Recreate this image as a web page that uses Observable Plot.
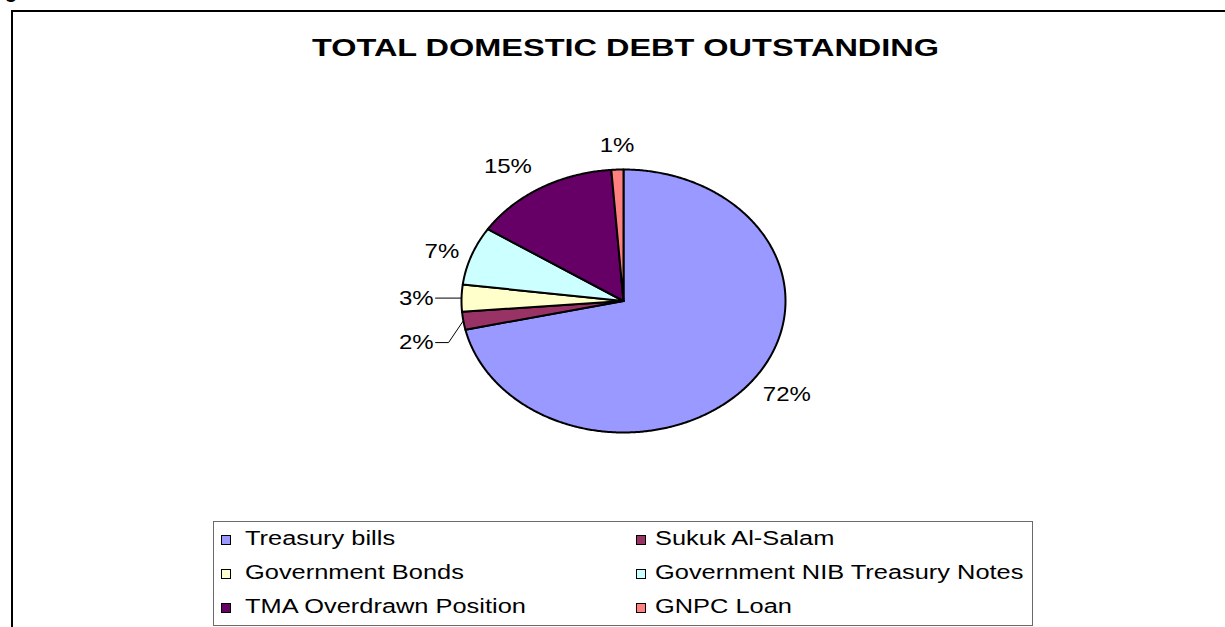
<!DOCTYPE html>
<html>
<head>
<meta charset="utf-8">
<script src="https://cdn.jsdelivr.net/npm/d3@7"></script>
<script src="https://cdn.jsdelivr.net/npm/@observablehq/plot@0.6"></script>
<style>
  html, body { margin: 0; padding: 0; background: #fff; overflow: hidden; }
  #page { position: relative; width: 1225px; height: 627px; overflow: hidden; background: #fff;
          font-family: "Liberation Sans", Arial, sans-serif; color: #000; }
  .abs { position: absolute; white-space: nowrap; line-height: 1; }
  #frame { position: absolute; left: 11px; top: 10px; width: 1214px; height: 617px;
           border-left: 2px solid #000; border-top: 2px solid #000; box-sizing: border-box; }
  #legend { position: absolute; left: 213px; top: 521px; width: 818px; height: 103px;
            border: 1.5px solid #6a6a6a; }
  .sw { position: absolute; width: 8px; height: 8px; border: 1px solid #000; }
  #chart { position: absolute; left: 0; top: 0; }
</style>
</head>
<body>
<div id="page">
  <div id="frame"></div>
  <div class="abs" style="left:5px;top:-19px;font-size:20px;font-weight:bold;">g</div>
  <div id="title" class="abs"></div>
  <div id="chart"></div>
  <div id="legend"></div>
  <div id="legendItems"></div>
</div>
<script>
// ---- data ----
const chartTitle = "TOTAL DOMESTIC DEBT OUTSTANDING";
const categories = ["Treasury bills", "Sukuk Al-Salam", "Government Bonds",
                    "Government NIB Treasury Notes", "TMA Overdrawn Position", "GNPC Loan"];
const shares = [71.5, 2.2, 3.3, 7.2, 14.6, 1.2];
const labelTexts = ["72%", "2%", "3%", "7%", "15%", "1%"];
const colors = ["#9999FF", "#993366", "#FFFFCC", "#CCFFFF", "#660066", "#FF8080"];

// ---- layout ----
const cx = 623, cy = 300.5, rx = 162, ry = 131.5;
const labelScaleX = 1.2, labelFont = 20;
const labelMode = ["out", "bent", "straight", "out", "out", "out"];
const labelNudgePx = [[3, -4], [0, 0], [0, 0], [5, 4], [-11, 0], [1, 1]];

const arcs = d3.pie().sort(null).value(d => d)(shares);

// slice polygons in unit-circle coordinates (angles clockwise from 12 o'clock)
const slices = [];
arcs.forEach((a, i) => {
  const n = Math.max(2, Math.ceil((a.endAngle - a.startAngle) / (Math.PI / 360)));
  slices.push({u: 0, v: 0, cat: categories[i]});
  for (let j = 0; j <= n; j++) {
    const t = a.startAngle + (a.endAngle - a.startAngle) * j / n;
    slices.push({u: Math.sin(t), v: Math.cos(t), cat: categories[i]});
  }
  slices.push({u: 0, v: 0, cat: categories[i]});
});

// labels & leader lines
const labels = [], leaders = [];
arcs.forEach((a, i) => {
  const m = (a.startAngle + a.endAngle) / 2;
  const s = Math.sin(m), c = Math.cos(m);
  const txt = labelTexts[i];
  const wpx = ((txt.length - 1) * 0.556 + 0.889) * labelFont * labelScaleX;
  const hw = (wpx / 2) / rx, hh = 9 / ry;
  const nu = labelNudgePx[i][0] / rx, nv = -labelNudgePx[i][1] / ry;
  if (labelMode[i] === "out") {
    const k = 1.12;
    labels.push({u: k * s + s * hw + nu, v: k * c + c * hh + nv, text: txt});
  } else if (labelMode[i] === "straight") {
    leaders.push({u: s, v: c, id: i}, {u: -1.16, v: c, id: i});
    labels.push({u: -1.16 - hw - 0.012 + nu, v: c + nv, text: txt});
  } else {
    const v2 = c - 0.166;
    leaders.push({u: s, v: c, id: i}, {u: -1.08, v: v2, id: i}, {u: -1.16, v: v2, id: i});
    labels.push({u: -1.16 - hw - 0.012 + nu, v: v2 + nv, text: txt});
  }
});

const chart = Plot.plot({
  width: 1225, height: 520, margin: 0,
  x: {domain: [-1, 1], range: [cx - rx, cx + rx], axis: null},
  y: {domain: [-1, 1], range: [cy + ry, cy - ry], axis: null},
  color: {domain: categories, range: colors},
  style: {background: "transparent", fontFamily: "'Liberation Sans', Arial, sans-serif", overflow: "visible"},
  marks: [
    Plot.line(slices, {x: "u", y: "v", z: "cat", fill: "cat", stroke: "#000", strokeWidth: 2,
                       strokeLinejoin: "round", curve: "linear"}),
    Plot.line(leaders, {x: "u", y: "v", z: "id", stroke: "#000", strokeWidth: 1}),
    Plot.text(labels, {x: "u", y: "v", text: "text", fontSize: labelFont, fill: "#000"})
  ]
});
document.getElementById("chart").appendChild(chart);

// stretch label glyphs horizontally like the reference
d3.select(chart).selectAll('g[aria-label="text"] text').each(function () {
  let t = this.getAttribute("transform") || "";
  const x = this.getAttribute("x");
  if (x !== null && !isNaN(parseFloat(x))) { t += ` translate(${parseFloat(x)},0)`; this.removeAttribute("x"); }
  this.setAttribute("transform", t + ` scale(${labelScaleX},1)`);
});

// title
const title = document.getElementById("title");
title.textContent = chartTitle;
const tfs = 24.5;
Object.assign(title.style, {left: "312px", top: (56.7 - 0.8465 * tfs) + "px", fontSize: tfs + "px",
  fontWeight: "bold", transform: "scaleX(1.325)", transformOrigin: "0 0"});

// legend
const li = document.getElementById("legendItems");
const colText = [245, 655], colSw = [221, 636];
const rowBase = [545, 579, 612.5];
const lfs = 20;
categories.forEach((cat, i) => {
  const col = i % 2, row = Math.floor(i / 2);
  const sw = document.createElement("div");
  sw.className = "sw";
  Object.assign(sw.style, {left: colSw[col] + "px", top: (rowBase[row] - 10) + "px", background: colors[i]});
  li.appendChild(sw);
  const t = document.createElement("div");
  t.className = "abs";
  t.textContent = cat;
  Object.assign(t.style, {left: colText[col] + "px", top: (rowBase[row] - 0.8465 * lfs) + "px",
    fontSize: lfs + "px", transform: "scaleX(1.27)", transformOrigin: "0 0"});
  li.appendChild(t);
});
</script>
</body>
</html>
